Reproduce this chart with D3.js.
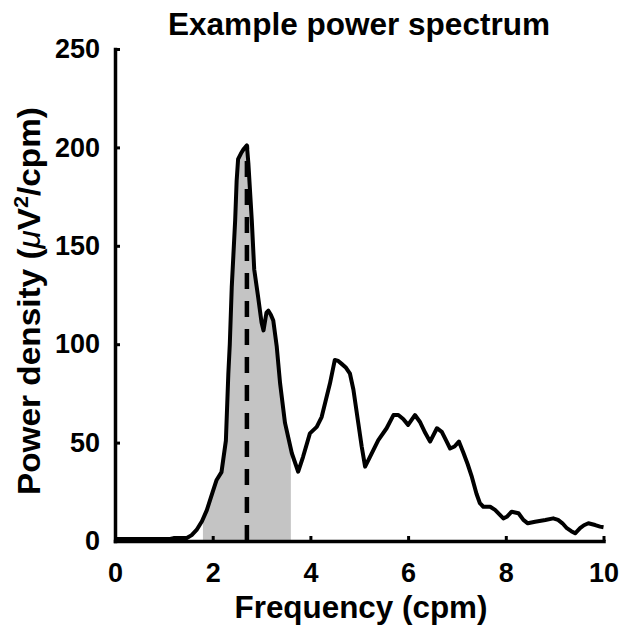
<!DOCTYPE html>
<html lang="en">

<head>
  <meta charset="UTF-8">
  <title>Example power spectrum</title>
  <script src="https://cdn.jsdelivr.net/npm/d3@7"></script>
  <style>
    body { margin: 0; background: white; }
    text { font-family: "Liberation Sans", Arial, sans-serif; font-weight: bold; fill: black; }
  </style>
</head>

<body>
  <svg id="chart" width="622" height="633"></svg>
  <script>
    // frequency (cpm) and power density
    let freq = [0, 0.5, 1.0, 1.13, 1.2, 1.47, 1.57, 1.67, 1.78, 1.88, 2.0, 2.08, 2.18, 2.27, 2.32, 2.35,
      2.39, 2.46, 2.49, 2.52, 2.58, 2.63, 2.70, 2.73, 2.80, 2.85, 2.93, 3.0, 3.04, 3.10, 3.14, 3.19,
      3.24, 3.31, 3.38, 3.48, 3.62, 3.75, 3.85, 3.99, 4.13, 4.23, 4.31, 4.40, 4.50, 4.57, 4.64, 4.73,
      4.81, 4.88, 4.98, 5.05, 5.12, 5.22, 5.39, 5.56, 5.70, 5.80, 5.90, 6.0, 6.14, 6.24, 6.35, 6.45,
      6.59, 6.69, 6.78, 6.86, 6.95, 7.04, 7.13, 7.22, 7.30, 7.40, 7.47, 7.54, 7.68, 7.78, 7.87, 7.95,
      8.02, 8.12, 8.26, 8.36, 8.45, 8.60, 8.81, 8.97, 9.07, 9.16, 9.25, 9.34, 9.42, 9.52, 9.60, 9.69,
      9.83, 9.93, 10.0];
    let power = [1, 1, 1, 1, 1.5, 1.5, 3, 5.6, 10, 15.7, 25, 31, 35, 51, 85, 100,
      129, 163, 183, 194, 197, 199, 201, 192, 163, 138, 124, 111, 107, 116, 117, 115,
      112, 99, 80, 60, 44.6, 35.2, 42.8, 54.7, 58, 63, 71, 80, 92, 91.5, 90, 88,
      85, 77, 60, 48, 37.8, 42.8, 51.3, 57.3, 64, 64, 62, 59, 64, 60.6, 55, 50.5,
      57.3, 55.5, 51, 47, 48, 50.5, 45, 39, 33, 24, 19.2, 17.4, 17.4, 15.8, 13.5, 11.5,
      12.3, 14.9, 14.1, 10.7, 9, 9.8, 10.7, 11.5, 10.7, 9, 6.5, 5, 3.9, 6.5, 8, 9,
      8.1, 7.3, 7];

    // shaded band and peak frequency
    let band = [1.8, 3.6];
    let peakFreq = 2.70;
    let peakPower = 201;

    let xTicks = [0, 2, 4, 6, 8, 10];
    let yTicks = [0, 50, 100, 150, 200, 250];

    let titleText = 'Example power spectrum';
    let xLabel = 'Frequency (cpm)';

    let data = freq.map((f, i) => ({ f: f, p: power[i] }));

    let svg = d3.select('#chart');

    let xScale = d3.scaleLinear().domain([0, 10]).range([115, 603.5]);
    let yScale = d3.scaleLinear().domain([0, 250]).range([541, 49]);

    // gray area under the curve, clipped to the band
    svg.append('clipPath')
      .attr('id', 'bandClip')
      .append('rect')
      .attr('x', xScale(band[0]))
      .attr('y', yScale(250))
      .attr('width', xScale(band[1]) - xScale(band[0]))
      .attr('height', yScale(0) - yScale(250));

    let area = d3.area()
      .x(d => xScale(d.f))
      .y0(yScale(0))
      .y1(d => yScale(d.p));

    svg.append('path')
      .datum(data)
      .attr('clip-path', 'url(#bandClip)')
      .attr('d', area)
      .attr('fill', '#c4c4c4');

    // dashed line at the peak
    svg.append('line')
      .attr('x1', xScale(peakFreq))
      .attr('x2', xScale(peakFreq))
      .attr('y1', yScale(0))
      .attr('y2', yScale(peakPower))
      .attr('stroke', 'black')
      .attr('stroke-width', 4.5)
      .attr('stroke-dasharray', '16,12');

    // spectrum line
    let line = d3.line()
      .x(d => xScale(d.f))
      .y(d => yScale(d.p));

    svg.append('path')
      .datum(data)
      .attr('d', line)
      .attr('fill', 'none')
      .attr('stroke', 'black')
      .attr('stroke-width', 4)
      .attr('stroke-linejoin', 'round');

    // axes, ticks pointing inward
    let xAxis = svg.append('g')
      .attr('transform', 'translate(0,' + yScale(0) + ')')
      .call(d3.axisBottom(xScale).tickValues(xTicks).tickSizeInner(-5).tickSizeOuter(0).tickPadding(22));
    let yAxis = svg.append('g')
      .attr('transform', 'translate(' + xScale(0) + ',0)')
      .call(d3.axisLeft(yScale).tickValues(yTicks).tickSizeInner(-5).tickSizeOuter(0).tickPadding(15));

    [xAxis, yAxis].forEach(g => {
      g.attr('font-size', 27).attr('font-family', null);
      g.select('.domain').attr('stroke', 'black').attr('stroke-width', 3.5).attr('stroke-linecap', 'square');
      g.selectAll('.tick line').attr('stroke', 'black').attr('stroke-width', 3);
      g.selectAll('.tick text').attr('fill', 'black');
    });

    // title and labels
    svg.append('text')
      .attr('x', 359)
      .attr('y', 35)
      .attr('text-anchor', 'middle')
      .attr('font-size', 31)
      .attr('textLength', 382)
      .attr('lengthAdjust', 'spacingAndGlyphs')
      .text(titleText);

    svg.append('text')
      .attr('x', 361)
      .attr('y', 618)
      .attr('text-anchor', 'middle')
      .attr('font-size', 31)
      .attr('textLength', 253)
      .attr('lengthAdjust', 'spacingAndGlyphs')
      .text(xLabel);

    let yLab = svg.append('text')
      .attr('transform', 'translate(40,301) rotate(-90)')
      .attr('text-anchor', 'middle')
      .attr('font-size', 31)
      .attr('textLength', 388)
      .attr('lengthAdjust', 'spacingAndGlyphs');
    yLab.append('tspan').text('Power density (');
    yLab.append('tspan').attr('font-style', 'italic').attr('font-weight', 'normal').text('μ');
    yLab.append('tspan').text('V');
    yLab.append('tspan').attr('font-size', 20).attr('dy', -12).text('2');
    yLab.append('tspan').attr('dy', 12).text('/cpm)');
  </script>
</body>

</html>
